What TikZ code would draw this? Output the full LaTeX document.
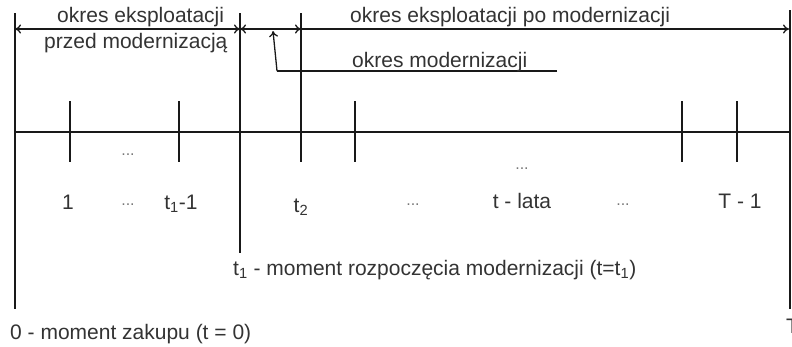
\documentclass[tikz,border=0pt]{standalone}
\usepackage{fontspec}
\setmainfont{Liberation Sans}
\usetikzlibrary{arrows.meta}
\definecolor{txt}{HTML}{333333}
\definecolor{dotc}{HTML}{777777}
\tikzset{
  lbl/.style={inner sep=0pt, font=\fontsize{21}{24}\selectfont, text=txt},
  dots/.style={inner sep=0pt, font=\fontsize{16}{18}\selectfont, text=dotc, anchor=base},
  ln/.style={line width=1.3pt, draw=black!90},
  tip/.style={-{To[length=6pt,width=9pt]}},
  dtip/.style={{To[length=6pt,width=9pt]}-{To[length=6pt,width=9pt]}},
}
\begin{document}
\begin{tikzpicture}[x=1pt,y=-1pt]
\useasboundingbox (0,0) rectangle (792,346);
\clip (0,0) rectangle (792,346);
% key coordinates
\coordinate (v0t) at (15,13);   \coordinate (v0b) at (15,309);
\coordinate (v1t) at (240,13);  \coordinate (v1b) at (240,253);
\coordinate (v2t) at (301,13);  \coordinate (v2b) at (301,162);
\coordinate (vTt) at (790,10);  \coordinate (vTb) at (790,309);
\coordinate (a0) at (15,29); \coordinate (a1) at (240,29); \coordinate (a2) at (301,29); \coordinate (a3) at (789,29);
\coordinate (ax0) at (15,132); \coordinate (ax1) at (790,132);
\coordinate (m0) at (277,71); \coordinate (m1) at (557,71); \coordinate (mt) at (273,31);
% verticals
\draw[ln] (v0t) -- (v0b);
\draw[ln] (v1t) -- (v1b);
\draw[ln] (v2t) -- (v2b);
\draw[ln] (vTt) -- (vTb);
% period arrows
\draw[ln,dtip] (a0) -- (a1);
\draw[ln,dtip] (a1) -- (a2);
\draw[ln,tip] (a2) -- (a3);
% modernization pointer
\draw[ln] (m1) -- (m0);
\draw[ln,tip] (m0) -- (mt);
% main axis
\draw[ln] (ax0) -- (ax1);
% ticks
\foreach \x/\n in {70/k1,179/k2,355/k3,682/k4,737/k5}{
  \coordinate (\n t) at (\x,101); \coordinate (\n b) at (\x,162);
  \draw[ln] (\n t) -- (\n b);
}
% top labels
\node[lbl,anchor=base west] (pe1) at (57,22) {okres eksploatacji};
\node[lbl,anchor=base west] (pe2) at (44,48) {przed modernizacją};
\node[lbl,anchor=base west] (pe3) at (350,22) {okres eksploatacji po modernizacji};
\node[lbl,anchor=base west] (pm) at (352,67) {okres modernizacji};
% axis labels
\node[lbl,anchor=base] (l1) at (68,209) {1};
\node[lbl,anchor=base] (lt1) at (181,209) {t\textsubscript{1}-1};
\node[lbl,anchor=base] (lt2) at (301,212) {t\textsubscript{2}};
\node[lbl,anchor=base] (lt) at (522,208) {t - lata};
\node[lbl,anchor=base] (lT) at (740,208) {T - 1};
\node[dots] (d1) at (128,155) {...};
\node[dots] (d2) at (522,169) {...};
\node[dots] (d3) at (128,205) {...};
\node[dots] (d4) at (413,205) {...};
\node[dots] (d5) at (623,205) {...};
% bottom labels
\node[lbl,anchor=base west] (bt1) at (233,275) {t\textsubscript{1} - moment rozpoczęcia modernizacji (t=t\textsubscript{1})};
\node[lbl,anchor=base west] (b0) at (10,339) {0 - moment zakupu (t = 0)};
\node[lbl,anchor=base west] (bT) at (786,333) {T};
\end{tikzpicture}
\end{document}
